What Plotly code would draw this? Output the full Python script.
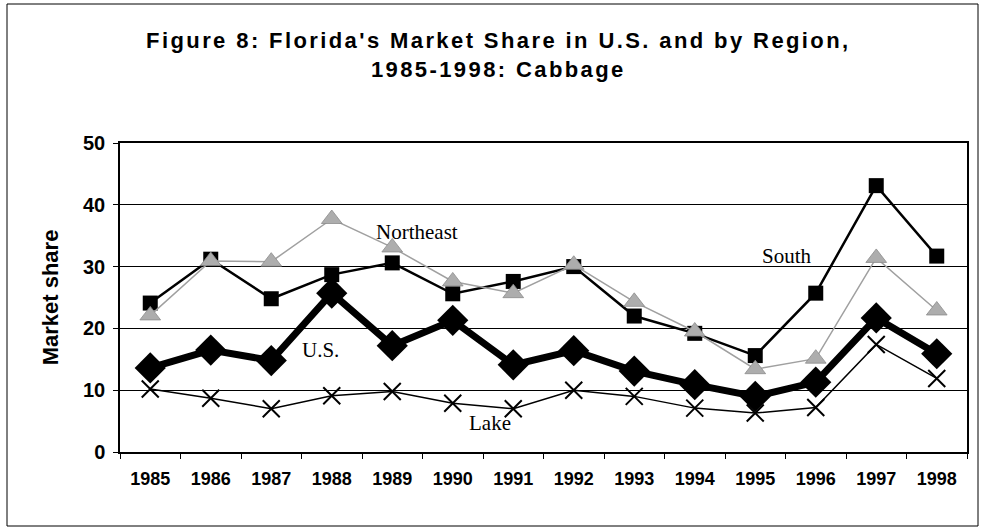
import plotly.graph_objects as go

years = ["1985", "1986", "1987", "1988", "1989", "1990", "1991",
         "1992", "1993", "1994", "1995", "1996", "1997", "1998"]
south = [24.1, 31.2, 24.8, 28.7, 30.6, 25.6, 27.6, 30.0, 22.0, 19.2, 15.6, 25.7, 43.1, 31.7]
northeast = [22.1, 30.9, 30.8, 37.7, 33.1, 27.6, 25.7, 30.3, 24.3, 19.5, 13.4, 15.1, 31.4, 22.9]
us = [13.6, 16.5, 14.8, 25.7, 17.2, 21.3, 14.1, 16.4, 13.1, 10.9, 9.0, 11.3, 21.7, 15.9]
lake = [10.2, 8.7, 7.0, 9.1, 9.8, 7.9, 7.0, 10.0, 9.0, 7.1, 6.3, 7.2, 17.4, 11.9]
y_ticks = [0, 10, 20, 30, 40, 50]

fig = go.Figure()
fig.add_trace(go.Scatter(x=years, y=south, name="South", mode="lines+markers",
                         line=dict(color="black", width=2.5),
                         marker=dict(symbol="square", size=15, color="black")))
fig.add_trace(go.Scatter(x=years, y=northeast, name="Northeast", mode="lines+markers",
                         line=dict(color="#a0a0a0", width=1.5),
                         marker=dict(symbol="triangle-up", size=18, color="#adadad",
                                     line=dict(color="#8c8c8c", width=0.8))))
fig.add_trace(go.Scatter(x=years, y=us, name="U.S.", mode="lines+markers",
                         line=dict(color="black", width=7),
                         marker=dict(symbol="diamond", size=24, color="black")))
fig.add_trace(go.Scatter(x=years, y=lake, name="Lake", mode="lines+markers",
                         line=dict(color="black", width=1.5),
                         marker=dict(symbol="x-thin", size=17,
                                     line=dict(color="black", width=2))))

serif = dict(family="Liberation Serif, Times New Roman, serif", size=21, color="black")
for txt, xv, yv in [("Northeast", 4.41, 35.6), ("South", 10.52, 31.7),
                    ("U.S.", 2.81, 16.5), ("Lake", 5.62, 4.7)]:
    fig.add_annotation(x=xv, y=yv, text=txt, showarrow=False, font=serif,
                       xref="x", yref="y")

# outer frame
fig.add_shape(type="rect", xref="paper", yref="paper",
              x0=-0.1334, x1=1.013, y0=-0.2395, y1=1.4498,
              line=dict(color="black", width=1))

fig.update_layout(
    width=981, height=528,
    margin=dict(l=120, r=14, t=143, b=76),
    paper_bgcolor="white", plot_bgcolor="white",
    showlegend=False,
    title=dict(text="Figure 8: Florida's Market Share in U.S. and by Region,<br>1985-1998: Cabbage",
               x=0.508, xanchor="center", y=0.909, yanchor="middle",
               font=dict(family="Liberation Sans, Arial, sans-serif", size=22, color="black",
                         weight="bold")),
    font=dict(family="Liberation Sans, Arial, sans-serif", color="black"),
)
fig.update_xaxes(type="category", range=[-0.5, 13.5], showline=True, linecolor="black",
                 linewidth=1.5, mirror=True, ticks="outside", tickson="boundaries", ticklen=5,
                 tickcolor="black", showgrid=False, ticklabelstandoff=10,
                 tickfont=dict(size=18, weight="bold", color="black"))
fig.update_yaxes(range=[0, 50], tickvals=y_ticks, showline=True, linecolor="black",
                 linewidth=1.5, mirror=True, ticks="outside", ticklen=5, tickcolor="black",
                 showgrid=True, gridcolor="black", gridwidth=1, zeroline=False,
                 ticklabelstandoff=4,
                 tickfont=dict(size=20, weight="bold", color="black"),
                 title=dict(text="Market share",
                            font=dict(size=22, weight="bold", color="black"), standoff=18))

post = ("document.body.style.margin='0';"
        "document.querySelectorAll('.gtitle').forEach(function(t){t.style.letterSpacing='2.4px';});")
fig.write_html("out.html", post_script=post, config={"displayModeBar": False})
